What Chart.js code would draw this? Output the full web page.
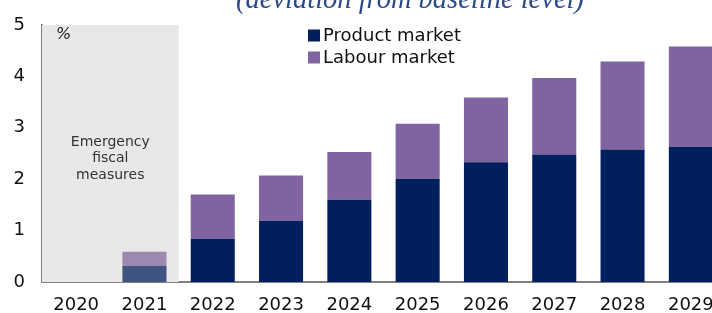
<!DOCTYPE html>
<html>
<head>
<meta charset="utf-8">
<script src="https://cdn.jsdelivr.net/npm/chart.js@4"></script>
<style>
    html, body { margin: 0; padding: 0; background: #fff; overflow: hidden; }
    #wrap { width: 725px; height: 313px; }
</style>
</head>
<body>
<div id="wrap"><canvas id="reformChart"></canvas></div>
<script>
        const years = ['2020', '2021', '2022', '2023', '2024', '2025', '2026', '2027', '2028', '2029'];
        const productMarket = [0, 0.31, 0.84, 1.19, 1.60, 2.01, 2.33, 2.48, 2.58, 2.63];
        const labourMarket = [0, 0.28, 0.86, 0.88, 0.93, 1.07, 1.26, 1.49, 1.71, 1.95];
        const yTicks = [0, 1, 2, 3, 4, 5];

        const navy = '#001f5c';
        const purple = '#8064a2';
        // bars inside the shaded box look washed out
        const navyLight = '#3f5580';
        const purpleLight = '#9d89b0';

        // Shaded box over 2020-2021, title, legend and notes
        const decorations = {
            id: 'decorations',
            beforeDatasetsDraw(chart) {
                const { ctx, chartArea, scales } = chart;
                const x0 = chartArea.left;
                const x1 = (scales.x.getPixelForValue(1) + scales.x.getPixelForValue(2)) / 2;
                ctx.save();
                ctx.fillStyle = '#e8e8e8';
                ctx.fillRect(x0, chartArea.top, x1 - x0, chartArea.bottom - chartArea.top);
                ctx.fillStyle = '#333';
                ctx.font = '14px "DejaVu Sans"';
                ctx.textAlign = 'center';
                ctx.textBaseline = 'middle';
                const cx = (x0 + x1) / 2;
                ctx.fillText('Emergency', cx, 142);
                ctx.fillText('fiscal', cx, 158);
                ctx.fillText('measures', cx, 175);
                ctx.fillStyle = '#222';
                ctx.font = 'italic 16px "DejaVu Sans"';
                ctx.textAlign = 'left';
                ctx.fillText('%', 56, 35);
                ctx.restore();
            },
            afterDraw(chart) {
                const { ctx } = chart;
                ctx.save();
                ctx.fillStyle = '#2a4a8a';
                ctx.font = 'italic 28.5px "Liberation Serif"';
                ctx.textAlign = 'center';
                ctx.textBaseline = 'alphabetic';
                ctx.fillText('(deviation from baseline level)', 410, 8);

                ctx.font = '18px "DejaVu Sans"';
                ctx.textAlign = 'left';
                ctx.textBaseline = 'middle';
                chart.data.datasets.forEach((ds, i) => {
                    const y = 35.5 + i * 22;
                    ctx.fillStyle = ds.legendColor;
                    ctx.fillRect(308, y - 6, 12, 12);
                    ctx.fillStyle = '#111';
                    ctx.fillText(ds.label, 323, y + 1);
                });
                ctx.restore();
            }
        };

        const reformChart = new Chart(
            document.getElementById('reformChart'),
            {
                type: 'bar',
                data: {
                    labels: years,
                    datasets: [
                        {
                            label: 'Product market',
                            data: productMarket,
                            legendColor: navy,
                            backgroundColor: (c) => c.dataIndex === 1 ? navyLight : navy,
                            borderWidth: 0
                        },
                        {
                            label: 'Labour market',
                            data: labourMarket,
                            legendColor: purple,
                            backgroundColor: (c) => c.dataIndex === 1 ? purpleLight : purple,
                            borderWidth: 0
                        }
                    ]
                },
                options: {
                    responsive: true,
                    maintainAspectRatio: false,
                    animation: false,
                    datasets: {
                        bar: { categoryPercentage: 1, barPercentage: 0.645 }
                    },
                    layout: { padding: { top: 25, left: 0, right: 0, bottom: 0 } },
                    plugins: {
                        legend: { display: false },
                        tooltip: { enabled: false }
                    },
                    scales: {
                        x: {
                            stacked: true,
                            grid: { display: false, drawTicks: false },
                            border: { color: '#808080', width: 2 },
                            ticks: { color: '#111', font: { family: 'DejaVu Sans', size: 18 }, padding: 13 },
                            afterFit: (s) => { s.height = 31; s.paddingLeft = 0; s.paddingRight = 0; }
                        },
                        y: {
                            stacked: true,
                            min: 0,
                            max: 5,
                            grid: { display: false, drawTicks: false },
                            border: { color: '#808080', width: 2 },
                            afterBuildTicks: (s) => { s.ticks = yTicks.map(v => ({ value: v })); },
                            ticks: { color: '#111', font: { family: 'DejaVu Sans', size: 18 }, padding: 17 },
                            afterFit: (s) => { s.width = 42; s.paddingTop = 0; s.paddingBottom = 0; }
                        }
                    }
                },
                plugins: [decorations]
            }
        );
</script>
</body>
</html>
